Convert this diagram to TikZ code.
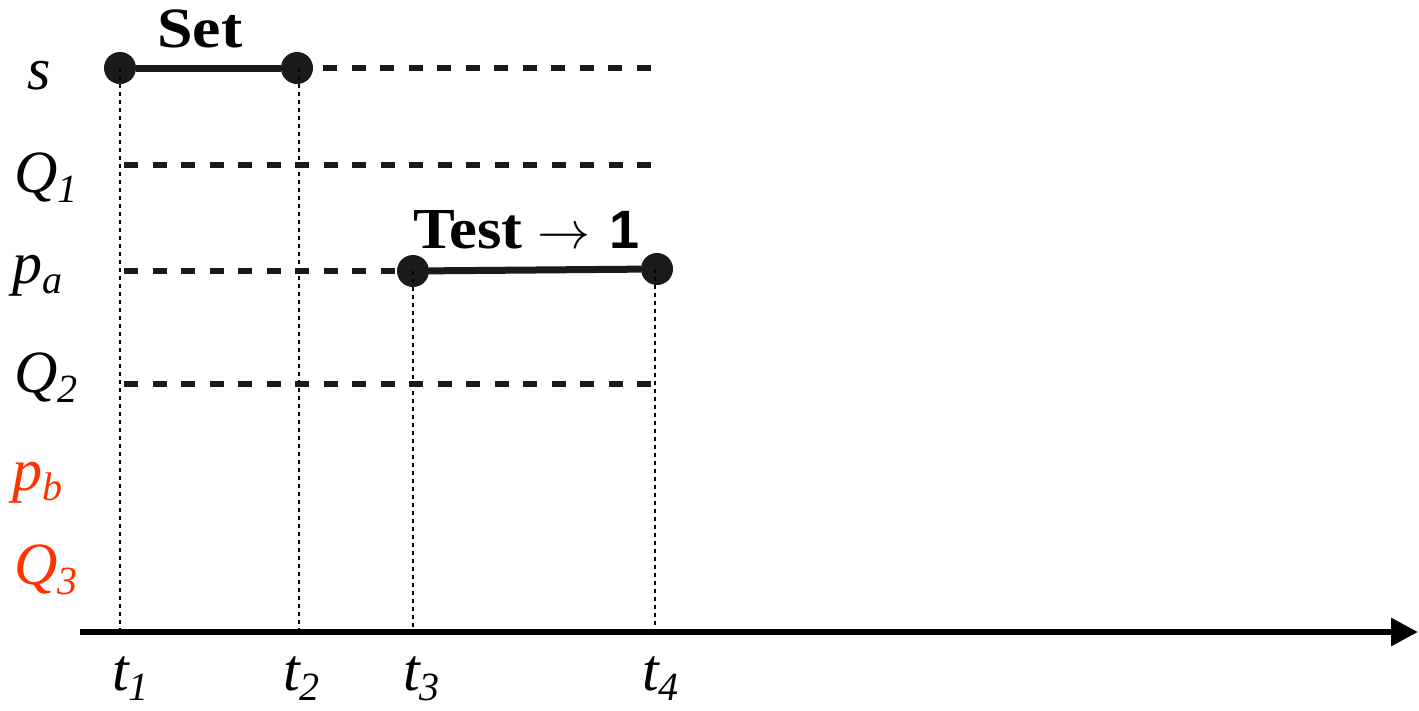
\documentclass[tikz,border=0pt]{standalone}
\usepackage{fontspec}
\setmainfont{Liberation Serif}
\newfontfamily\sansfam{Liberation Sans}
\usetikzlibrary{arrows.meta}
\definecolor{ink}{HTML}{1A1A1A}
\definecolor{lblred}{HTML}{FF3300}
\newcommand\sublab[2]{{\fontsize{60}{60}\selectfont\itshape #1\raisebox{-10pt}{\fontsize{40}{40}\selectfont #2}}}
\tikzset{
  dot/.style={circle, fill=ink, inner sep=0pt, minimum size=32pt},
  solidseg/.style={draw=ink, line width=7pt},
  dashseg/.style={draw=ink, line width=6.5pt, dash pattern=on 14pt off 14.5pt},
  guide/.style={draw=black, line width=2pt, dash pattern=on 4pt off 4pt},
  rowlab/.style={anchor=base west, inner sep=0pt},
  timelab/.style={anchor=base west, inner sep=0pt},
  opnlab/.style={anchor=base west, inner sep=0pt},
  axisline/.style={draw=black, line width=6pt, -{Triangle[length=27pt,width=27pt]}}
}
\begin{document}
\begin{tikzpicture}[x=1pt,y=-1pt]
\useasboundingbox (0,0) rectangle (1419,710);

% axis
\coordinate (ax0) at (80,632);
\coordinate (ax1) at (1418,632);
\draw[axisline] (ax0) -- (ax1);

% foot points on axis
\coordinate (f1) at (120,632);
\coordinate (f2) at (299,632);
\coordinate (f3) at (413,632);
\coordinate (f4) at (655,632);

% dots
\node[dot] (s1) at (120,68) {};
\node[dot] (s2) at (297,68) {};
\node[dot] (p1) at (413,271) {};
\node[dot] (p2) at (657,269) {};

% guide lines
\draw[guide] (s1.center) -- (f1);
\coordinate (g2) at (299,68);
\draw[guide] (g2) -- (f2);
\draw[guide] (p1.center) -- (f3);
\coordinate (g4) at (655,269);
\draw[guide] (g4) -- (f4);

% row s
\draw[solidseg] (s1) -- (s2);
\coordinate (sa) at (323,68);
\coordinate (sb) at (657,68);
\draw[dashseg] (sa) -- (sb);

% row Q1
\coordinate (qa) at (124,165);
\coordinate (qb) at (658,165);
\draw[dashseg] (qa) -- (qb);

% row pa
\coordinate (pa0) at (124,271);
\draw[dashseg] (pa0) -- (p1.west);
\draw[solidseg] (p1) -- (p2);

% row Q2
\coordinate (q2a) at (124,384);
\coordinate (q2b) at (658,384);
\draw[dashseg] (q2a) -- (q2b);

% row labels
\node[rowlab] (ls) at (27,89) {\fontsize{60}{60}\selectfont\itshape s};
\node[rowlab] (lq1) at (14,192) {\sublab{Q}{1}};
\node[rowlab] (lpa) at (12,283) {\sublab{p}{a}};
\node[rowlab] (lq2) at (14,392) {\sublab{Q}{2}};
\node[rowlab, text=lblred] (lpb) at (12,490) {\sublab{p}{b}};
\node[rowlab, text=lblred] (lq3) at (14,584) {\sublab{Q}{3}};

% operation labels
\node[opnlab] (lset) at (157,47) {\scalebox{1.12}[1]{\fontsize{57}{57}\selectfont\bfseries Set}};
\node[opnlab] (ltest) at (413,248) {\scalebox{1.08}[1]{\fontsize{58}{58}\selectfont\bfseries Test}\hspace{15pt}\resizebox{53pt}{!}{$\rightarrow$}\hspace{19pt}{\fontsize{54}{54}\selectfont\sansfam\bfseries 1}};

% time labels
\node[timelab] (t1) at (112,690) {\sublab{t}{1}};
\node[timelab] (t2) at (283,690) {\sublab{t}{2}};
\node[timelab] (t3) at (403,690) {\sublab{t}{3}};
\node[timelab] (t4) at (642,690) {\sublab{t}{4}};
\end{tikzpicture}
\end{document}
